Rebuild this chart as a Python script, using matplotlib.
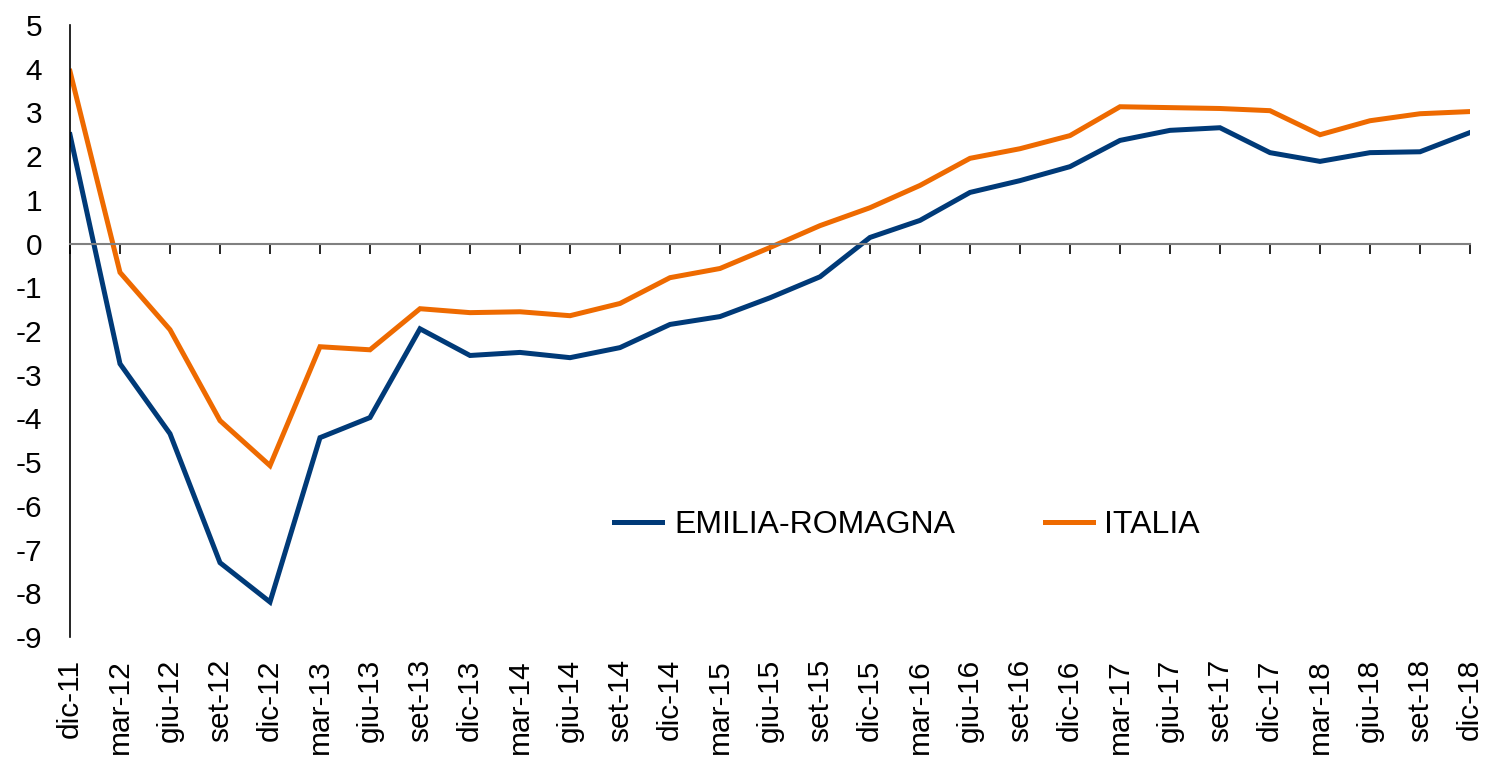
import matplotlib
matplotlib.use("Agg")
import matplotlib.pyplot as plt

plt.rcParams['font.family'] = ['Liberation Sans', 'DejaVu Sans']

# quarterly labels
periodi = ['dic-11', 'mar-12', 'giu-12', 'set-12', 'dic-12', 'mar-13', 'giu-13', 'set-13',
           'dic-13', 'mar-14', 'giu-14', 'set-14', 'dic-14', 'mar-15', 'giu-15', 'set-15',
           'dic-15', 'mar-16', 'giu-16', 'set-16', 'dic-16', 'mar-17', 'giu-17', 'set-17',
           'dic-17', 'mar-18', 'giu-18', 'set-18', 'dic-18']

emilia_romagna = [2.49, -2.75, -4.35, -7.30, -8.20, -4.44, -3.98, -1.95,
                  -2.56, -2.49, -2.61, -2.38, -1.85, -1.67, -1.24, -0.76,
                  0.14, 0.53, 1.17, 1.44, 1.76, 2.36, 2.59, 2.65,
                  2.08, 1.88, 2.08, 2.10, 2.54]

italia = [3.94, -0.66, -1.97, -4.05, -5.08, -2.36, -2.43, -1.49,
          -1.58, -1.56, -1.65, -1.37, -0.78, -0.57, -0.09, 0.41,
          0.82, 1.33, 1.95, 2.17, 2.47, 3.13, 3.11, 3.09,
          3.04, 2.49, 2.81, 2.97, 3.02]

y_ticks = list(range(-9, 6))

fig = plt.figure(figsize=(14.86, 7.57), dpi=100)
ax = fig.add_axes([70 / 1486, 1 - 637 / 757, 1400 / 1486, 612 / 757])

x = list(range(len(periodi)))
ax.plot(x, emilia_romagna, color='#003a78', lw=3.6, label='EMILIA-ROMAGNA', solid_joinstyle='miter')
ax.plot(x, italia, color='#ee6a00', lw=3.6, label='ITALIA', solid_joinstyle='miter')

ax.set_xlim(0, len(periodi) - 1)
ax.set_ylim(-9, 5)
ax.set_yticks(y_ticks)
ax.set_yticklabels([str(v) for v in y_ticks])
ax.tick_params(axis='y', length=0, labelsize=21.5, pad=20)

# zero line carrying the tick marks
ax.spines['bottom'].set_position(('data', 0))
ax.spines['bottom'].set_color('#808080')
ax.spines['bottom'].set_linewidth(1.5)
ax.spines['top'].set_visible(False)
ax.spines['right'].set_visible(False)
ax.spines['left'].set_linewidth(1.2)
ax.set_xticks(x)
ax.tick_params(axis='x', direction='out', length=7, width=1.2, color='black', labelbottom=False)

# category labels at the bottom of the plot
sec = ax.secondary_xaxis('bottom')
sec.set_xticks(x)
sec.set_xticklabels(periodi, rotation=90)
sec.tick_params(axis='x', length=0, labelsize=21.5, pad=16)
sec.spines['bottom'].set_visible(False)

ax.legend(loc='center', bbox_to_anchor=(0.598, 0.183), ncol=2, frameon=False,
          fontsize=23, handlelength=1.5, handletextpad=0.37, columnspacing=2.8)

fig.savefig('out.png', dpi=100)
